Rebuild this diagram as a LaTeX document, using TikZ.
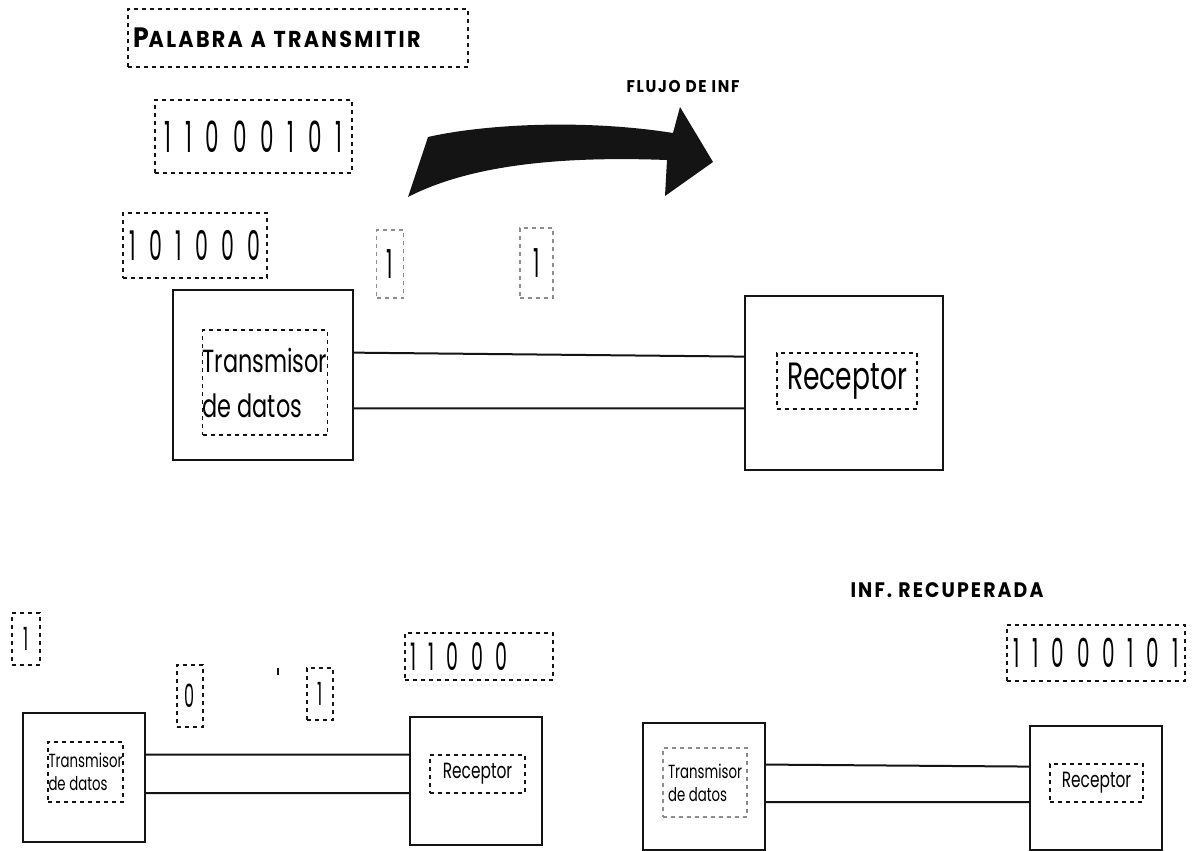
\documentclass[tikz,border=0pt]{standalone}
\usepackage{fontspec}
\setmainfont{Poppins}
\newfontfamily\gothicfont[FakeStretch=0.7]{Poppins}
\newfontfamily\digitfont[FakeStretch=0.5,LetterSpace=32]{Poppins}
\newfontfamily\capsfont[FakeStretch=0.9,LetterSpace=10]{Poppins}
\usetikzlibrary{calc}
\definecolor{inkblack}{RGB}{20, 20, 20}
\definecolor{fadegray}{RGB}{140, 140, 140}
\tikzset{
  wire/.style={draw=inkblack, line width=2pt}
}

\begin{document}
\begin{tikzpicture}[x=1pt, y=-1pt,
    unitbox/.style={rectangle, draw=inkblack, line width=2pt, inner sep=0pt},
    dashbox/.style={rectangle, draw=inkblack, dash pattern=on 4pt off 4pt, line width=1.5pt, inner sep=0pt},
    fadebox/.style={dashbox, draw=fadegray},
    bitsfont/.style={font=\digitfont\fontsize{#1}{#1}\selectfont},
    labelfont/.style 2 args={font=\gothicfont\fontsize{#1}{#2}\selectfont},
    titlefont/.style={font=\capsfont\bfseries\fontsize{#1}{#1}\selectfont}
]
    \useasboundingbox (0,0) rectangle (1194,851);

    % Word to send and the bits still waiting
    \node[dashbox, minimum height=58pt, text width=330pt, inner xsep=5pt, align=left, titlefont=23] (palabra) at (298, 38) {{\fontsize{28}{28}\selectfont P}ALABRA A TRANSMITIR};
    \node[dashbox, minimum width=197pt, minimum height=73pt, bitsfont=43] (word) at (253.5, 136.5) {11000101};
    \node[dashbox, minimum width=144pt, minimum height=65pt, bitsfont=41] (remain) at (195, 245.5) {101000};
    \node[fadebox, minimum width=27pt, minimum height=68pt, bitsfont=40] (bitA) at (390, 264) {1};
    \node[fadebox, minimum width=33pt, minimum height=70pt, bitsfont=40] (bitB) at (536.5, 263) {1};

    % Flow of information
    \node[titlefont=17] (flujo) at (683, 87) {FLUJO DE INF};
    \fill[inkblack] (408, 197) -- (428, 137)
        .. controls (485, 124) and (585, 119) .. (673, 133)
        -- (680, 107) -- (713, 162) -- (665, 196) -- (667, 160)
        .. controls (560, 156) and (470, 165) .. cycle;

    % Top link
    \node[unitbox, minimum width=180pt, minimum height=170pt] (txA) at (263, 375) {};
    \node[dashbox, minimum width=124pt, minimum height=105pt, labelfont={32}{45}, align=left] (txAlbl) at (265, 382.5) {Transmisor\\de datos};
    \node[unitbox, minimum width=198pt, minimum height=174pt] (rxA) at (844, 383) {};
    \node[dashbox, minimum width=140pt, minimum height=56pt, labelfont={38}{38}] (rxAlbl) at (847, 381) {Receptor};
    \draw[wire] ($(txA.north east)!0.37!(txA.south east)$) -- ($(rxA.north west)!0.35!(rxA.south west)$);
    \draw[wire] ($(txA.north east)!0.694!(txA.south east)$) -- ($(rxA.north west)!0.644!(rxA.south west)$);

    % Bottom left: bits on the way
    \node[dashbox, minimum width=28pt, minimum height=52pt, bitsfont=32] (bitC) at (26, 639) {1};
    \node[dashbox, minimum width=26pt, minimum height=62pt, bitsfont=32] (bitD) at (190, 696) {0};
    \node[dashbox, minimum width=26pt, minimum height=52pt, bitsfont=32] (bitE) at (320, 694) {1};
    \coordinate (mark) at (278, 668);
    \draw[inkblack, line width=1.2pt] (mark) -- ++(0, 7);
    \node[dashbox, minimum height=47pt, text width=138pt, inner xsep=5pt, align=left, bitsfont=38] (partial) at (479, 656.5) {11 000};
    \node[unitbox, minimum width=122pt, minimum height=129pt] (txB) at (84, 777.5) {};
    \node[dashbox, minimum width=75pt, minimum height=60pt, labelfont={19}{23}, align=left] (txBlbl) at (85.5, 772) {Transmisor\\de datos};
    \node[unitbox, minimum width=132pt, minimum height=128pt] (rxB) at (476, 781) {};
    \node[dashbox, minimum width=95pt, minimum height=38pt, labelfont={22}{22}] (rxBlbl) at (477.5, 774) {Receptor};
    \draw[wire] ($(txB.north east)!0.326!(txB.south east)$) -- ($(rxB.north west)!0.297!(rxB.south west)$);
    \draw[wire] ($(txB.north east)!0.62!(txB.south east)$) -- ($(rxB.north west)!0.594!(rxB.south west)$);

    % Bottom right: recovered word
    \node[titlefont=21] (recup) at (947, 590) {INF. RECUPERADA};
    \node[dashbox, minimum width=178pt, minimum height=56pt, bitsfont=40] (final) at (1096, 653) {11000101};
    \node[unitbox, minimum width=122pt, minimum height=127pt] (txC) at (704, 786.5) {};
    \node[fadebox, minimum width=84pt, minimum height=69pt, labelfont={19}{23}, align=left] (txClbl) at (705, 782.5) {Transmisor\\de datos};
    \node[unitbox, minimum width=132pt, minimum height=124pt] (rxC) at (1096, 788) {};
    \node[dashbox, minimum width=93pt, minimum height=38pt, labelfont={22}{22}] (rxClbl) at (1096.5, 783) {Receptor};
    \draw[wire] ($(txC.north east)!0.33!(txC.south east)$) -- ($(rxC.north west)!0.33!(rxC.south west)$);
    \draw[wire] ($(txC.north east)!0.622!(txC.south east)$) -- ($(rxC.north west)!0.613!(rxC.south west)$);
\end{tikzpicture}
\end{document}
